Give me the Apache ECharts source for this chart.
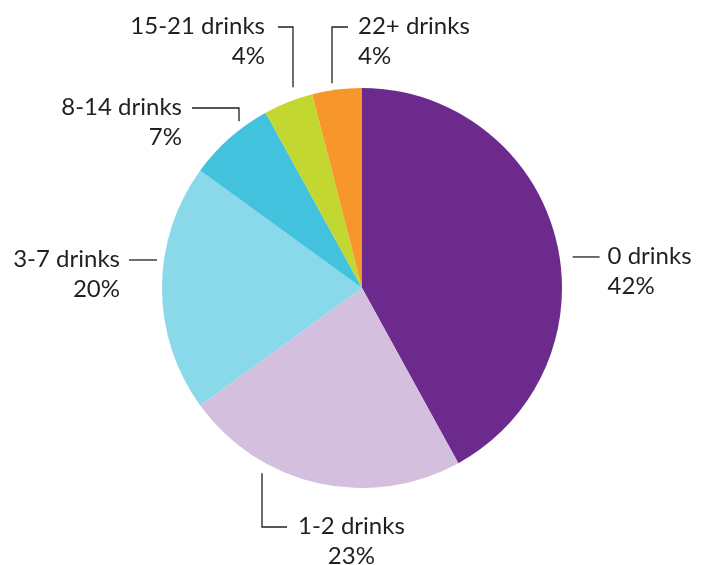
<!DOCTYPE html>
<html>
<head>
<meta charset="utf-8">
<script src="https://cdn.jsdelivr.net/npm/echarts@6/dist/echarts.min.js"></script>
<style>
html,body{margin:0;padding:0;background:#fff;}
#chart{width:708px;height:565px;}
</style>
</head>
<body>
<div id="chart"></div>
<script>
// ---- data ----
const categories = ['0 drinks', '1-2 drinks', '3-7 drinks', '8-14 drinks', '15-21 drinks', '22+ drinks'];
const percents = [42, 23, 20, 7, 4, 4];

// ---- styles / layout (kept separate from data) ----
const colors = ['#6C2A8C', '#D5BFDF', '#89D9EB', '#42C2DC', '#C2D72F', '#F7972B'];
const R = 200;
const labelGuides = [
  {kind: 'h', dy: -31, gap: 13, len: 27, pad: 8, align: 'left'},
  {kind: 'v', dx: -100, gap: 12, elbow: 239, len: 25, pad: 11, align: 'center'},
  {kind: 'h', dy: -28, gap: 7, len: 28, pad: 9, align: 'right'},
  {kind: 'v', dx: -123, gap: 9, elbow: -180, len: 47, pad: 10, align: 'right'},
  {kind: 'v', dx: -69, gap: 13, elbow: -261, len: 15, pad: 13, align: 'right'},
  {kind: 'v', dx: -30, gap: 7, elbow: -261, len: 16, pad: 10, align: 'left'}
];
const LINE_H = 30;

const chart = echarts.init(document.getElementById('chart'), null, {renderer: 'canvas'});
const W = chart.getWidth(), H = chart.getHeight();
const cxPct = 51.13, cyPct = 50.97;
const cx = W * cxPct / 100, cy = H * cyPct / 100;

function layoutLabel(params) {
  const g = labelGuides[params.dataIndex];
  let pts, lineY, endX;
  if (g.kind === 'h') {
    lineY = cy + g.dy;
    const dir = g.align === 'right' ? -1 : 1;
    const edgeX = cx + dir * Math.sqrt(R * R - g.dy * g.dy);
    const sx = edgeX + dir * g.gap;
    endX = sx + dir * g.len;
    pts = [[sx, lineY], [(sx + endX) / 2, lineY], [endX, lineY]];
  } else {
    const x = cx + g.dx;
    const vdir = g.elbow < 0 ? -1 : 1;
    const edgeY = cy + vdir * Math.sqrt(R * R - g.dx * g.dx);
    const sy = edgeY + vdir * g.gap;
    lineY = cy + g.elbow;
    const hdir = g.align === 'right' ? -1 : 1;
    endX = x + hdir * g.len;
    pts = [[x, sy], [x, lineY], [endX, lineY]];
  }
  let tx;
  if (g.align === 'right') tx = endX - g.pad;
  else if (g.align === 'left') tx = endX + g.pad;
  else tx = endX + g.pad + params.labelRect.width / 2;
  return {
    x: tx,
    y: lineY - LINE_H / 2 - 1,
    align: g.align,
    verticalAlign: 'top',
    labelLinePoints: pts
  };
}

chart.setOption({
  backgroundColor: '#ffffff',
  animation: false,
  series: [{
    type: 'pie',
    center: [cxPct + '%', cyPct + '%'],
    radius: [0, R],
    startAngle: 90,
    clockwise: true,
    avoidLabelOverlap: false,
    data: categories.map((c, i) => ({name: c, value: percents[i], itemStyle: {color: colors[i]}})),
    itemStyle: {borderWidth: 0},
    emphasis: {disabled: true},
    label: {
      show: true,
      position: 'outside',
      formatter: p => p.name + '\n' + p.value + '%',
      fontFamily: 'Lato',
      fontSize: 24,
      lineHeight: LINE_H,
      color: '#231F20'
    },
    labelLine: {
      show: true,
      smooth: false,
      lineStyle: {color: '#231F20', width: 1.3}
    },
    labelLayout: layoutLabel
  }]
});
</script>
</body>
</html>
